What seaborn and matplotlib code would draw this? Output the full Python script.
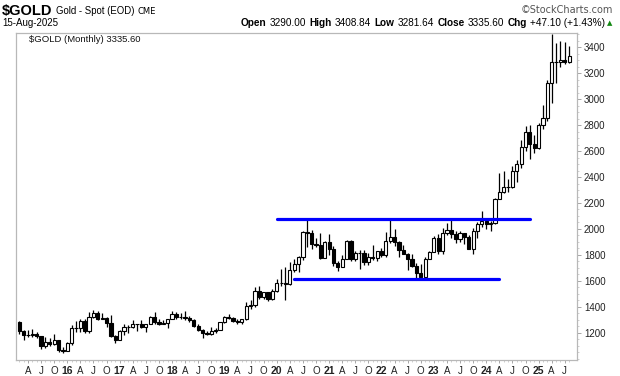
import numpy as np
import pandas as pd
import matplotlib
matplotlib.use("Agg")
import matplotlib.pyplot as plt
import seaborn as sns
from matplotlib import font_manager as fm

# ---------------- data (monthly OHLC, Feb-2015 .. Aug-2025) ----------------
first_month = "2015-02-01"

opens = [1283, 1213, 1183, 1184, 1190, 1172, 1095, 1132, 1115, 1142, 1065,
         1061, 1118, 1238, 1233, 1293, 1215, 1322, 1351, 1309, 1316, 1277, 1173,
         1146, 1211, 1248, 1247, 1268, 1268, 1242, 1269, 1322, 1280, 1271, 1275,
         1303, 1345, 1318, 1325, 1315, 1298, 1253, 1224, 1201, 1192, 1214, 1222,
         1282, 1321, 1313, 1292, 1283, 1305, 1409, 1413, 1520, 1472, 1513, 1463,
         1523, 1587, 1586, 1577, 1687, 1730, 1781, 1975, 1967, 1886, 1879, 1777,
         1898, 1847, 1734, 1708, 1769, 1907, 1770, 1814, 1814, 1742, 1783, 1774,
         1829, 1796, 1909, 1937, 1897, 1838, 1807, 1766, 1711, 1661, 1633, 1768,
         1824, 1928, 1827, 1969, 1990, 1963, 1919, 1965, 1940, 1849, 1983, 2036,
         2063, 2039, 2044, 2230, 2286, 2327, 2326, 2447, 2503, 2634, 2744, 2654,
         2625, 2798, 2858, 3124, 3288, 3289, 3303, 3290.00]
highs = [1290, 1219, 1224, 1232, 1205, 1175, 1170, 1156, 1191, 1144, 1088,
         1128, 1263, 1287, 1303, 1306, 1362, 1375, 1367, 1352, 1318, 1337, 1180,
         1220, 1264, 1261, 1296, 1270, 1296, 1270, 1331, 1357, 1306, 1299, 1309,
         1366, 1362, 1356, 1365, 1326, 1309, 1266, 1226, 1214, 1243, 1237, 1284,
         1326, 1347, 1324, 1303, 1306, 1439, 1453, 1555, 1557, 1517, 1516, 1535,
         1611, 1689, 1704, 1748, 1765, 1789, 1984, 2075, 1992, 1933, 1966, 1906,
         1959, 1872, 1755, 1797, 1913, 1916, 1832, 1834, 1834, 1814, 1877, 1831,
         1853, 1974, 2070, 1998, 1910, 1879, 1814, 1808, 1735, 1730, 1786, 1833,
         1949, 1959, 2009, 2048, 2082, 1983, 1987, 1967, 1953, 2010, 2052, 2135,
         2088, 2065, 2236, 2431, 2450, 2387, 2483, 2531, 2685, 2790, 2801, 2726,
         2817, 2956, 3148, 3500, 3435, 3452, 3440, 3408.84]
lows = [1191, 1142, 1170, 1170, 1162, 1077, 1080, 1098, 1107, 1052, 1046,
        1060, 1107, 1208, 1206, 1200, 1200, 1310, 1302, 1305, 1241, 1171, 1123,
        1146, 1180, 1195, 1240, 1214, 1236, 1205, 1265, 1271, 1260, 1264, 1236,
        1303, 1307, 1303, 1301, 1282, 1246, 1211, 1160, 1180, 1182, 1196, 1221,
        1276, 1307, 1281, 1266, 1267, 1301, 1382, 1400, 1459, 1458, 1445, 1454,
        1517, 1563, 1451, 1568, 1670, 1671, 1757, 1863, 1848, 1860, 1765, 1776,
        1803, 1717, 1677, 1704, 1765, 1750, 1750, 1688, 1722, 1721, 1759, 1753,
        1780, 1781, 1890, 1872, 1787, 1805, 1681, 1709, 1615, 1617, 1616, 1765,
        1823, 1805, 1810, 1950, 1932, 1893, 1903, 1884, 1848, 1810, 1931, 2017,
        2002, 1984, 2039, 2229, 2277, 2286, 2319, 2364, 2472, 2604, 2537, 2583,
        2614, 2772, 2832, 2970, 3121, 3247, 3268, 3281.64]
closes = [1213, 1183, 1184, 1190, 1172, 1095, 1132, 1115, 1142, 1065, 1061,
          1118, 1238, 1233, 1293, 1215, 1322, 1351, 1309, 1316, 1277, 1173, 1146,
          1211, 1248, 1247, 1268, 1268, 1242, 1269, 1322, 1280, 1271, 1275, 1303,
          1345, 1318, 1325, 1315, 1298, 1253, 1224, 1201, 1192, 1214, 1222, 1282,
          1321, 1313, 1292, 1283, 1305, 1409, 1413, 1520, 1472, 1513, 1463, 1523,
          1587, 1586, 1577, 1687, 1730, 1781, 1975, 1967, 1886, 1879, 1777, 1898,
          1847, 1734, 1708, 1769, 1907, 1770, 1814, 1814, 1742, 1783, 1774, 1829,
          1796, 1909, 1937, 1897, 1838, 1807, 1766, 1711, 1661, 1633, 1768, 1824,
          1928, 1827, 1969, 1990, 1963, 1919, 1965, 1940, 1849, 1983, 2036, 2063,
          2039, 2044, 2230, 2286, 2327, 2326, 2447, 2503, 2634, 2744, 2654, 2625,
          2798, 2858, 3124, 3288, 3289, 3303, 3290, 3335.60]

y_ticks = [1200, 1400, 1600, 1800, 2000, 2200, 2400, 2600, 2800, 3000, 3200, 3400]
quarter_letters = {4: "A", 7: "J", 10: "O"}

# trend lines (level, first month, last month)
resistance = (2080, "2020-01-01", "2024-11-01")
support = (1618, "2020-05-01", "2024-04-01")

header_values = [("Open", "3290.00"), ("High", "3408.84"), ("Low", "3281.64"),
                 ("Close", "3335.60"), ("Chg", "+47.10 (+1.43%)")]

# ---------------- build frame ----------------
months = pd.date_range(first_month, periods=len(closes), freq="MS")
df = pd.DataFrame({"month": months, "open": opens, "high": highs,
                   "low": lows, "close": closes})
df["x"] = np.arange(len(df))
df["up"] = df["close"] >= df["open"]
df["body_lo"] = df[["open", "close"]].min(axis=1)
df["body_h"] = (df["close"] - df["open"]).abs()


def month_idx(s):
    d = pd.Timestamp(s)
    return (d.year - months[0].year) * 12 + d.month - months[0].month


# ---------------- style ----------------
sns.set_theme(style="white")
avail = {f.name for f in fm.fontManager.ttflist}
narrow = "Liberation Sans Narrow" if "Liberation Sans Narrow" in avail else "Liberation Sans"
plt.rcParams['font.family'] = ['Liberation Sans', 'DejaVu Sans']

W, H = 620, 376
fig = plt.figure(figsize=(W / 100, H / 100), dpi=100)
fig.patch.set_facecolor("white")
L, R, T, B = 16, 577, 33, 360
ax = fig.add_axes([L / W, 1 - B / H, (R - L) / W, (B - T) / H])
ax.set_facecolor("white")

# wicks
ax.vlines(df["x"], df["low"], df["high"], color="black", lw=0.9, zorder=2)
# bodies
ax.bar(df["x"], df["body_h"], bottom=df["body_lo"], width=0.74,
       color=np.where(df["up"], "white", "black"), edgecolor="black",
       linewidth=0.8, zorder=3)

# trend lines
for lvl, s, e in (resistance, support):
    ln = pd.DataFrame({"x": [month_idx(s), month_idx(e)], "y": [lvl, lvl]})
    sns.lineplot(data=ln, x="x", y="y", ax=ax, color="#0000ff", lw=2.3,
                 zorder=4, legend=False)

ax.set_xlim(-0.75, 127.8)
ax.set_ylim(990, 3510)
ax.set_xlabel("")
ax.set_ylabel("")

# y axis on right
ax.yaxis.tick_right()
ax.set_yticks(y_ticks)
ax.set_yticklabels([str(v) for v in y_ticks])
ax.set_yticks(np.arange(1000, 3501, 50), minor=True)
ax.tick_params(axis="y", which="major", length=3, width=0.6, color="#999999",
               labelsize=7, pad=2, labelcolor="#222222", right=True, left=False)
ax.tick_params(axis="y", which="minor", length=1.5, width=0.5, color="#bbbbbb",
               right=True, left=False)

# x axis quarter labels
xt, xl = [], []
for i, m in enumerate(months):
    if m.month == 1:
        xt.append(i); xl.append(m.strftime("%y"))
    elif m.month in quarter_letters:
        xt.append(i); xl.append(quarter_letters[m.month])
ax.set_xticks(xt)
ax.set_xticklabels(xl)
ax.set_xticks(df["x"], minor=True)
ax.tick_params(axis="x", which="major", length=2.5, width=0.6, color="#999999",
               labelsize=7, pad=1.5, labelcolor="#222222", bottom=True)
ax.tick_params(axis="x", which="minor", length=1.5, width=0.5, color="#bbbbbb",
               bottom=True)
for lab in ax.get_xticklabels():
    if lab.get_text().isdigit():
        lab.set_fontweight("bold")
        lab.set_fontsize(7.5)

for sp in ax.spines.values():
    sp.set_color("#b8b8b8")
    sp.set_linewidth(0.9)
ax.grid(False)

# ---------------- header texts ----------------
def ftext(x, y, s, **kw):
    return fig.text(x / W, 1 - y / H, s, va="baseline", **kw)

fig.canvas.draw()
renderer = fig.canvas.get_renderer()

# title line, placed left to right with measured widths
xcur = 2
for s, kw, gap in [("$GOLD", dict(fontsize=10.5, fontweight="bold", family=narrow), 3),
                   ("Gold - Spot (EOD)", dict(fontsize=6.9, family=narrow), 4),
                   ("CME", dict(fontsize=6, family="DejaVu Sans"), 0)]:
    t = ftext(xcur, 15 if s == "$GOLD" else 14, s, color="black", **kw)
    xcur += t.get_window_extent(renderer).width + gap

ftext(613, 13, "\u00a9StockCharts.com", fontsize=7, family="DejaVu Sans",
      color="#555555", ha="right")
ftext(2, 26, "15-Aug-2025", fontsize=7, color="black")

xpos = 605
ftext(612, 25.5, "\u25b2", fontsize=5, color="#118811", ha="right",
      family="DejaVu Sans")
pieces = []
for k, v in header_values:
    pieces += [(k, "bold"), (v, "normal")]
for s, wgt in reversed(pieces):
    t = ftext(xpos, 26, s, fontsize=7.2, fontweight=wgt, color="black", ha="right")
    bb = t.get_window_extent(renderer)
    xpos -= bb.width + (3 if wgt == "normal" else 3.5)

# in-plot label
ftext(29, 41.5, "$GOLD (Monthly) 3335.60", fontsize=6.8, family="Liberation Sans",
      color="#111111")

fig.savefig("out.png", dpi=100, facecolor="white")
